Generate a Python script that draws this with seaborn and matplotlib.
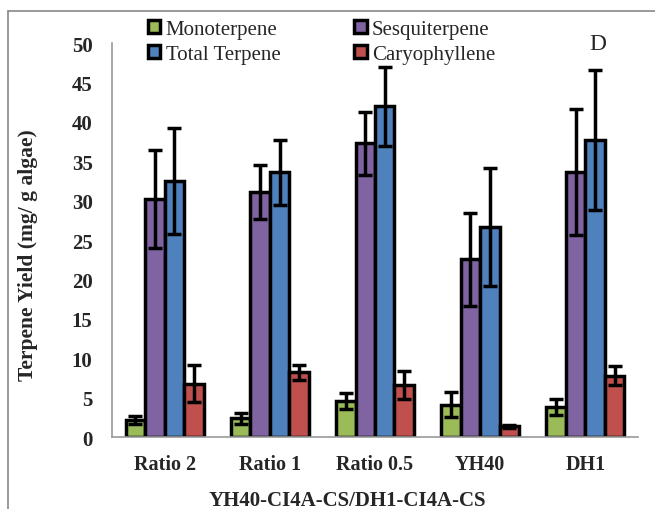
import numpy as np
import pandas as pd
import matplotlib
matplotlib.use('Agg')
import matplotlib.pyplot as plt
from matplotlib.patches import Patch
from matplotlib.lines import Line2D
import seaborn as sns

# values (mg / g algae)
groups = ['Ratio 2', 'Ratio 1', 'Ratio 0.5', 'YH40', 'DH1']
compounds = ['Monoterpene', 'Sesquiterpene', 'Total Terpene', 'Caryophyllene']
monoterpene = [2.2, 2.4, 4.6, 4.1, 3.85]
sesquiterpene = [30.2, 31.1, 37.3, 22.6, 33.7]
total_terpene = [32.5, 33.6, 42.0, 26.7, 37.7]
caryophyllene = [6.8, 8.2, 6.6, 1.35, 7.8]
mono_err = [0.5, 0.7, 1.0, 1.6, 1.0]
sesq_err = [6.2, 3.4, 4.0, 5.9, 8.0]
total_err = [6.7, 4.1, 5.0, 7.5, 8.9]
caryo_err = [2.35, 1.0, 1.75, 0.2, 1.2]

colors = ['#9BBB59', '#8064A2', '#4F81BD', '#C0504D']

values = [monoterpene, sesquiterpene, total_terpene, caryophyllene]
errors = [mono_err, sesq_err, total_err, caryo_err]
rows = []
for c, vals, errs in zip(compounds, values, errors):
    for g, v, e in zip(groups, vals, errs):
        rows.append({'group': g, 'compound': c, 'value': v, 'err': e})
df = pd.DataFrame(rows)

sns.set_style('white')
plt.rcParams['font.family'] = ['Liberation Serif', 'DejaVu Serif']

fig = plt.figure(figsize=(6.55, 5.10), dpi=100)
ax = fig.add_axes([0.171, 0.141, 0.803, 0.7725])

sns.barplot(data=df, x='group', y='value', hue='compound', order=groups,
            hue_order=compounds, palette=colors, saturation=1, width=0.74,
            errorbar=None, edgecolor='black', linewidth=2.5, legend=False, ax=ax)

# error bars on each bar
for cont, c in zip(ax.containers, compounds):
    sub = df[df['compound'] == c].set_index('group').loc[groups]
    xs = [p.get_x() + p.get_width() / 2 for p in cont.patches]
    ax.errorbar(xs, sub['value'], yerr=sub['err'], fmt='none', ecolor='black',
                elinewidth=2.5, capsize=5, capthick=2.5, zorder=5)

ax.set_ylim(0, 50)
ax.set_yticks(range(0, 51, 5))
ax.set_xlim(-0.5, 4.5)
for s in ['top', 'right']:
    ax.spines[s].set_visible(False)
for s in ['left', 'bottom']:
    ax.spines[s].set_color('#999999')
    ax.spines[s].set_linewidth(1.2)
ax.tick_params(axis='y', direction='in', length=4, width=1.2, color='#999999',
               labelsize=15, pad=14)
ax.tick_params(axis='x', length=0, labelsize=14.5, pad=12)
for lab in ax.get_xticklabels() + ax.get_yticklabels():
    lab.set_fontweight('bold')

ax.set_xlabel('YH40-CI4A-CS/DH1-CI4A-CS', fontsize=15, fontweight='bold', labelpad=12)
ax.set_ylabel('Terpene Yield (mg/ g algae)', fontsize=15.5, fontweight='bold', labelpad=14)
ax.xaxis.set_label_coords(0.447, -0.135)
ax.yaxis.set_label_coords(-0.14, 0.464)

# legend fills column-wise: reorder so rows read Mono/Sesq, Total/Caryo
order = [0, 2, 1, 3]
handles = [Patch(facecolor=colors[i], edgecolor='black', linewidth=2.5) for i in order]
labels = [compounds[i] for i in order]
leg = fig.legend(handles, labels, ncol=2, loc='upper left',
                 bbox_to_anchor=(0.210, 0.98), frameon=False, fontsize=15,
                 handlelength=0.6, handleheight=0.6, handletextpad=0.25,
                 columnspacing=3.55, labelspacing=0.3, borderpad=0)

fig.text(0.913, 0.913, 'D', fontsize=17, ha='center', va='center')

# outer chart frame (partially visible)
fig.add_artist(Line2D([8 / 655, 1], [1 - 12 / 510, 1 - 12 / 510], color='#888888', lw=1.2))
fig.add_artist(Line2D([8 / 655, 8 / 655], [0, 1 - 12 / 510], color='#888888', lw=1.2))

fig.savefig('out.png', dpi=100)
